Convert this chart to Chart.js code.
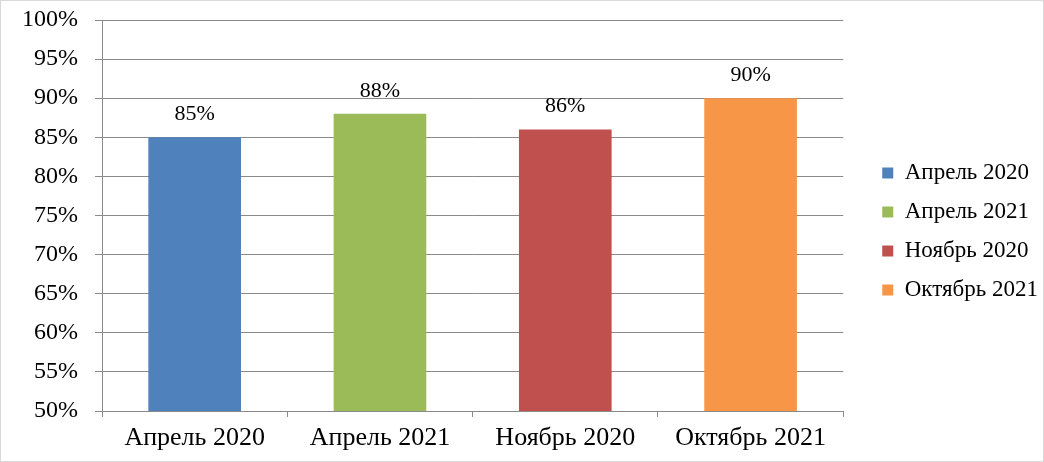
<!DOCTYPE html>
<html>
<head>
<meta charset="utf-8">
<script src="https://cdn.jsdelivr.net/npm/chart.js@4/dist/chart.umd.min.js"></script>
<style>
  body { margin: 0; background: #fff; }
  #wrap { width: 1044px; height: 462px; box-sizing: border-box; border: 1px solid #d9d9d9; }
</style>
</head>
<body>
<div id="wrap"><canvas id="chart-div" width="1042" height="460"></canvas></div>
<script>
const categories = ['Апрель 2020', 'Апрель 2021', 'Ноябрь 2020', 'Октябрь 2021'];
const values = [85, 88, 86, 90];
const colors = ['#4F81BD', '#9BBB59', '#C0504D', '#F79646'];
const yTicks = [50, 55, 60, 65, 70, 75, 80, 85, 90, 95, 100];

const serif = 'Liberation Serif, Times New Roman, serif';
const gridGray = '#8a8a8a';

// value labels above each bar
const barLabels = {
  id: 'barLabels',
  afterDatasetsDraw(chart) {
    const ctx = chart.ctx;
    const meta = chart.getDatasetMeta(0);
    ctx.save();
    ctx.font = '22px ' + serif;
    ctx.fillStyle = '#000';
    ctx.textAlign = 'center';
    ctx.textBaseline = 'middle';
    meta.data.forEach((bar, i) => {
      ctx.fillText(values[i] + '%', bar.x, bar.y - 23);
    });
    ctx.restore();
  }
};

// nudge the legend box right/up to where it sits in the original
const legendNudge = {
  id: 'legendNudge',
  afterLayout(chart) {
    const lg = chart.legend;
    lg.left += 23; lg.right += 23;
    lg.top -= 9; lg.bottom -= 9;
  }
};

new Chart(document.getElementById('chart-div'), {
  type: 'bar',
  data: {
    labels: categories,
    datasets: [{
      data: values,
      backgroundColor: colors,
      barPercentage: 0.5,
      categoryPercentage: 1
    }]
  },
  options: {
    responsive: false,
    animation: false,
    layout: { padding: { top: 19, right: 18, left: 0, bottom: 0 } },
    scales: {
      x: {
        grid: { display: true, drawOnChartArea: false, tickLength: 6, color: gridGray, offset: true },
        border: { color: gridGray },
        ticks: { color: '#000', font: { family: serif, size: 26 }, padding: 6, maxRotation: 0 },
        afterFit: s => { s.height = 50; s.paddingLeft = 0; s.paddingRight = 0; }
      },
      y: {
        min: 50,
        max: 100,
        afterBuildTicks: s => { s.ticks = yTicks.map(v => ({ value: v })); },
        grid: { color: gridGray, tickLength: 7 },
        border: { color: gridGray },
        ticks: { color: '#000', font: { family: serif, size: 24 }, padding: 17, callback: v => v + '%' },
        afterFit: s => { s.width = 101; s.paddingTop = 0; s.paddingBottom = 0; }
      }
    },
    plugins: {
      tooltip: { enabled: false },
      legend: {
        position: 'right',
        onClick: null,
        labels: {
          boxWidth: 11,
          boxHeight: 11,
          padding: 16,
          color: '#000',
          font: { family: serif, size: 23 },
          generateLabels: () => categories.map((c, i) => ({
            text: c, fillStyle: colors[i], strokeStyle: colors[i], lineWidth: 0, index: i
          }))
        }
      }
    }
  },
  plugins: [barLabels, legendNudge]
});
</script>
</body>
</html>
